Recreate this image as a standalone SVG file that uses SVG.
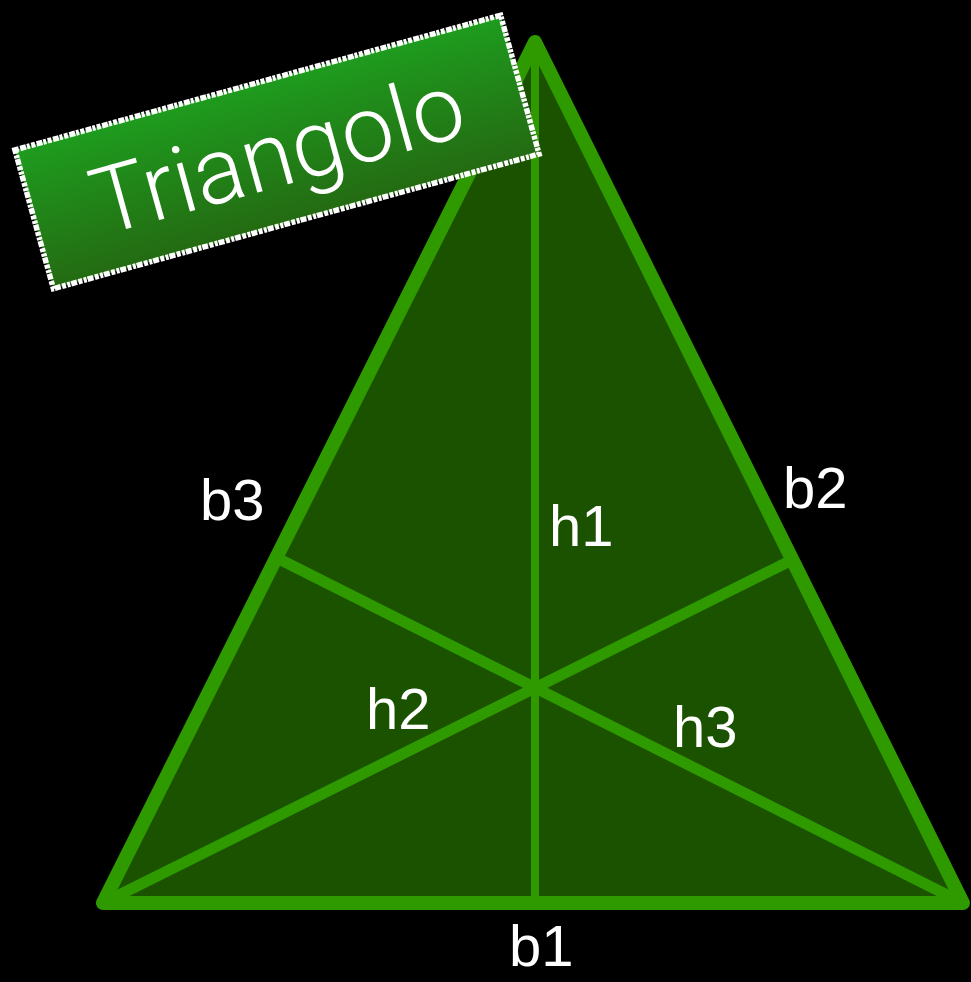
<svg xmlns="http://www.w3.org/2000/svg" width="971" height="982" viewBox="0 0 971 982">
  <defs>
    <linearGradient id="boxGrad" x1="0" y1="0" x2="0" y2="1">
      <stop offset="0" stop-color="#1e9c1e"/>
      <stop offset="1" stop-color="#246a12"/>
    </linearGradient>
    <filter id="soft" x="-10%" y="-10%" width="120%" height="120%">
      <feGaussianBlur stdDeviation="0.7"/>
    </filter>
  </defs>
  <style>
    .edge { fill: #1a5200; stroke: #2e9a00; stroke-width: 14; stroke-linejoin: round; stroke-linecap: round; }
    .alt { stroke: #2e9a00; fill: none; stroke-linecap: round; }
    .lbl { font-family: "Liberation Sans", Arial, sans-serif; font-size: 58px; fill: #ffffff; }
    .title { font-family: Roboto, "Liberation Sans", sans-serif; font-weight: 300; font-size: 93px; fill: #ffffff; }
  </style>
  <rect x="0" y="0" width="971" height="982" fill="#000000"/>

  <g id="triangle">
    <polygon class="edge" points="535,42 103,903 963,903"/>
  </g>

  <g id="altitudes">
    <line class="alt" x1="535" y1="42" x2="535" y2="903" stroke-width="8"/>
    <line class="alt" x1="103" y1="903" x2="792" y2="560" stroke-width="11"/>
    <line class="alt" x1="963" y1="903" x2="277" y2="558" stroke-width="11"/>
  </g>

  <g id="labels" filter="url(#soft)">
    <text class="lbl" x="200" y="520">b3</text>
    <text class="lbl" x="783" y="508">b2</text>
    <text class="lbl" x="549" y="546">h1</text>
    <text class="lbl" x="366" y="729">h2</text>
    <text class="lbl" x="673" y="747">h3</text>
    <text class="lbl" x="509" y="966">b1</text>
  </g>

  <g id="title" transform="translate(277,152) rotate(-15.5)">
    <rect x="-252" y="-72" width="504" height="144" fill="url(#boxGrad)" stroke="#ffffff" stroke-width="5.5" stroke-dasharray="4 1.5 6 1 3 1.5"/>
    <text class="title" x="0" y="34" text-anchor="middle">Triangolo</text>
  </g>
</svg>
